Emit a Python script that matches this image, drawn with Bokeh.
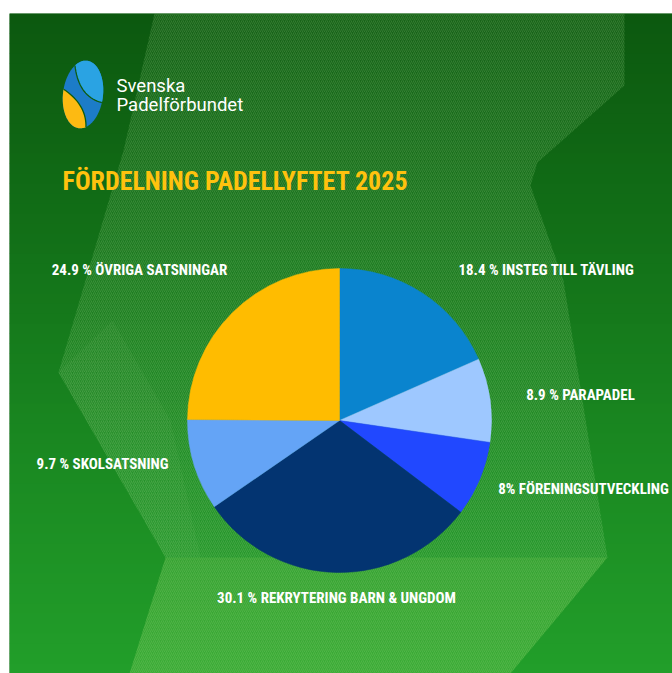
import numpy as np
from bokeh.plotting import figure
from bokeh.models import Range1d, ColumnDataSource
from bokeh.core.properties import value
from bokeh.embed import file_html
from bokeh.resources import INLINE

# ---------------- data ----------------
categories = ["INSTEG TILL TÄVLING", "PARAPADEL", "FÖRENINGSUTVECKLING",
              "REKRYTERING BARN & UNGDOM", "SKOLSATSNING", "ÖVRIGA SATSNINGAR"]
values = [18.4, 8.9, 8.0, 30.1, 9.7, 24.9]
value_texts = ["18.4 %", "8.9 %", "8%", "30.1 %", "9.7 %", "24.9 %"]
slice_colors = ["#0A84CE", "#9EC8FF", "#2148FF", "#033471", "#64A4F6", "#FFBC00"]
title = "FÖRDELNING PADELLYFTET 2025"
logo_lines = ["Svenska", "Padelförbundet"]

# ---------------- layout (page pixels) ----------------
LEFT, TOP = 9, 13
W, H = 672 - LEFT, 673 - TOP
COND = "'Roboto Condensed', 'DejaVu Sans Condensed', sans-serif"


def px(x):
    return np.asarray(x, dtype=float) - LEFT


def py(y):
    return (TOP + H) - np.asarray(y, dtype=float)


p = figure(width=W + LEFT, height=H + TOP, x_range=Range1d(0, W), y_range=Range1d(0, H),
           output_backend="svg", toolbar_location=None,
           x_axis_location=None, y_axis_location=None,
           min_border_left=LEFT, min_border_right=0, min_border_bottom=0, min_border_top=TOP,
           border_fill_color="white", background_fill_color="#0F5F12",
           outline_line_color=None)
p.grid.visible = False

# ---------------- background gradient ----------------
stops_y = [13, 200, 420, 673]
stops_c = [(12, 88, 15), (17, 108, 22), (25, 133, 32), (34, 158, 42)]
edges = np.linspace(13, 673, 67)
cols = []
for a_, b_ in zip(edges[:-1], edges[1:]):
    m = (a_ + b_) / 2
    rgb = [np.interp(m, stops_y, [c[i] for c in stops_c]) for i in range(3)]
    cols.append("#%02x%02x%02x" % tuple(int(round(v)) for v in rgb))
p.quad(left=0, right=W, top=py(edges[:-1]), bottom=py(edges[1:]) - 0.5,
       fill_color=cols, line_color=None)

# lighter hatched band
band_x = [154, 624, 624, 537, 530, 563, 607, 510, 129, 165, 58, 123]
band_y = [13, 13, 85, 162, 185, 280, 557, 673, 673, 557, 372, 150]
p.patch(px(band_x), py(band_y), fill_color="#A6E58A", fill_alpha=0.08, line_color=None,
        hatch_pattern="right_diagonal_line", hatch_color="#C8F5B0", hatch_alpha=0.2,
        hatch_scale=4, hatch_weight=0.8)
# denser hatching on the left flank
flank_x = [112, 58, 165, 200, 170]
flank_y = [320, 372, 557, 557, 420]
p.patch(px(flank_x), py(flank_y), fill_alpha=0.0, line_color=None,
        hatch_pattern="right_diagonal_line", hatch_color="#C8F5B0", hatch_alpha=0.09,
        hatch_scale=3, hatch_weight=0.7)
# brighter lower zone
low_x = [165, 607, 510, 129]
low_y = [557, 557, 673, 673]
p.patch(px(low_x), py(low_y), fill_color="#8FD85A", fill_alpha=0.16, line_color=None)

# ---------------- logo ----------------
cx, cy = 82.5, 94.0
a, b, phi = 20.0, 34.0, -0.12


def E(tdeg):
    t = np.radians(tdeg)
    ex = a * np.cos(t) * np.cos(phi) - b * np.sin(t) * np.sin(phi)
    ey = a * np.cos(t) * np.sin(phi) + b * np.sin(t) * np.cos(phi)
    return px(cx) + ex, py(cy) + ey


def bez(p0, c, p1, n=20):
    s = np.linspace(0, 1, n)
    bx = (1 - s) ** 2 * p0[0] + 2 * (1 - s) * s * c[0] + s ** 2 * p1[0]
    by = (1 - s) ** 2 * p0[1] + 2 * (1 - s) * s * c[1] + s ** 2 * p1[1]
    return bx, by


tt = np.linspace(0, 360, 120)
fx, fy = E(tt)
p.patch(fx, fy, fill_color="#1C7CC8", line_color=None)
t1 = np.linspace(-10, 125, 50)
ax1, ay1 = E(t1)
g1x, g1y = bez(E(125), (px(78), py(96)), E(-10))
p.patch(np.r_[ax1, g1x], np.r_[ay1, g1y], fill_color="#2AA3E3", line_color=None)
t2 = np.linspace(175, 290, 50)
ax2, ay2 = E(t2)
g2x, g2y = bez(E(290), (px(86), py(104)), E(175))
p.patch(np.r_[ax2, g2x], np.r_[ay2, g2y], fill_color="#FDBA12", line_color=None)
p.line(g1x, g1y, line_color="#0E5C10", line_width=1.3)
p.line(g2x, g2y, line_color="#0E5C10", line_width=1.3)

p.text(x=px([116, 116]), y=py([85, 104]), text=logo_lines, text_color="white",
       text_font=value("Roboto"), text_font_size="18.5px", text_baseline="middle")

# ---------------- title ----------------
p.text(x=px([62]), y=py([180]), text=[title], text_color="#FFC20E",
       text_font=value(COND), text_font_style="bold",
       text_font_size="26px", text_baseline="middle")

# ---------------- pie ----------------
frac = np.array(values) / np.sum(values)
cum = np.cumsum(frac)
start = np.pi / 2 - 2 * np.pi * np.r_[0, cum[:-1]]
end = np.pi / 2 - 2 * np.pi * cum
src = ColumnDataSource(dict(start=start, end=end, color=slice_colors))
p.wedge(x=px(339), y=py(420), radius=152, start_angle="start", end_angle="end",
        direction="clock", fill_color="color", line_color="color", line_width=0.5,
        source=src)

# ---------------- labels ----------------
labels = [f"{v} {c}" for v, c in zip(value_texts, categories)]
lab_x = [546, 580, 583, 336, 102, 139]
lab_y = [269, 394, 488, 597, 463, 269]
p.text(x=px(lab_x), y=py(lab_y), text=labels, text_color="white",
       text_font=value(COND), text_font_style="bold",
       text_font_size="15px", text_align="center", text_baseline="middle")

open("out.html", "w").write(file_html(p, INLINE))
